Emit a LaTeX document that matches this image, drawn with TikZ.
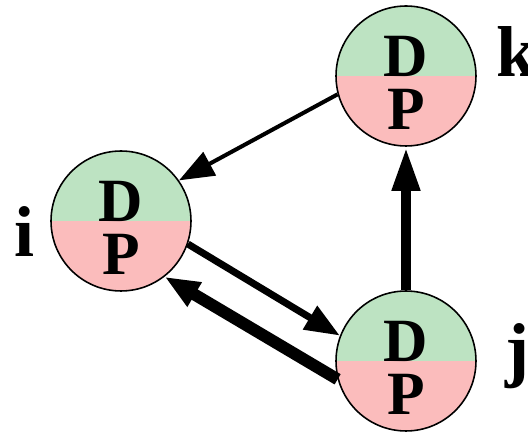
\documentclass[tikz,border=0pt]{standalone}
\usepackage{fontspec}
\setmainfont{Liberation Serif}
\usetikzlibrary{arrows.meta}
\definecolor{dgreen}{HTML}{BDE3C2}
\definecolor{ppink}{HTML}{FBBCBC}
% D over P, with a strut so D sits on the dividing line
\newcommand{\dpstack}{\rule{0pt}{31pt}D\\P}

\begin{document}
\begin{tikzpicture}[x=0.02cm,y=-0.02cm,
  pd/.style={circle,draw,line width=0.9pt,minimum size=2.8cm,inner sep=0pt,fill=ppink,
    path picture={\fill[dgreen](path picture bounding box.north west) rectangle (path picture bounding box.east);},
    align=center,font=\bfseries\fontsize{35}{30}\selectfont},
  lbl/.style={anchor=base,font=\bfseries\fontsize{41}{41}\selectfont},
  arr/.style={-{Triangle[length=0.7cm,width=0.52cm]}}]
\useasboundingbox (0,0) rectangle (528,435);
% the three processes
\node[pd] (i) at (121,221) {\dpstack};
\node[pd] (k) at (406,76) {\dpstack};
\node[pd] (j) at (406,361) {\dpstack};
\node[lbl] (li) at (25,257) {i};
\node[lbl] (lk) at (517,77) {k};
\node[lbl] (lj) at (517,374) {j};
\draw[arr,line width=2.3pt](k.195)--(i.35);
\draw[arr,line width=4pt](i.341)--(j.159);
\draw[arr,line width=6.8pt](j.195)--(i.308);
\draw[-{Triangle[length=0.88cm,width=0.52cm]},line width=5.7pt](j.north)--(k.south);
\end{tikzpicture}
\end{document}
